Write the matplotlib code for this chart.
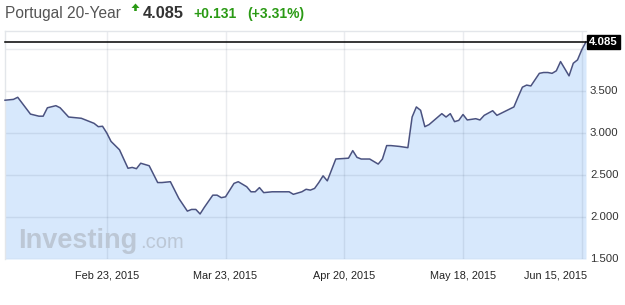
import numpy as np
import pandas as pd
import matplotlib
matplotlib.use("Agg")
import matplotlib.pyplot as plt
import matplotlib.dates as mdates
from matplotlib.patches import Polygon

plt.rcParams['font.family'] = ['Liberation Sans', 'DejaVu Sans']

# yield values
dates = ["2015-01-30", "2015-02-01", "2015-02-02", "2015-02-05", "2015-02-07",
         "2015-02-08", "2015-02-09", "2015-02-11", "2015-02-12", "2015-02-14",
         "2015-02-15", "2015-02-17", "2015-02-20", "2015-02-21", "2015-02-22",
         "2015-02-23", "2015-02-24", "2015-02-26", "2015-02-28", "2015-03-01",
         "2015-03-02", "2015-03-03", "2015-03-05", "2015-03-07", "2015-03-08",
         "2015-03-10", "2015-03-12", "2015-03-14", "2015-03-15", "2015-03-16",
         "2015-03-17", "2015-03-18", "2015-03-20", "2015-03-21", "2015-03-22",
         "2015-03-23", "2015-03-24", "2015-03-25", "2015-03-26", "2015-03-28",
         "2015-03-29", "2015-03-30", "2015-03-31", "2015-04-01", "2015-04-03",
         "2015-04-05", "2015-04-07", "2015-04-08", "2015-04-10", "2015-04-11",
         "2015-04-12", "2015-04-13", "2015-04-14", "2015-04-15", "2015-04-16",
         "2015-04-18", "2015-04-21", "2015-04-22", "2015-04-23", "2015-04-24",
         "2015-04-26", "2015-04-28", "2015-04-29", "2015-04-30", "2015-05-01",
         "2015-05-03", "2015-05-05", "2015-05-06", "2015-05-07", "2015-05-08",
         "2015-05-09", "2015-05-10", "2015-05-13", "2015-05-14", "2015-05-15",
         "2015-05-16", "2015-05-17", "2015-05-18", "2015-05-19", "2015-05-21",
         "2015-05-22", "2015-05-23", "2015-05-25", "2015-05-26", "2015-05-28",
         "2015-05-30", "2015-05-31", "2015-06-01", "2015-06-02", "2015-06-03",
         "2015-06-05", "2015-06-06", "2015-06-07", "2015-06-08", "2015-06-09",
         "2015-06-10", "2015-06-12", "2015-06-13", "2015-06-14", "2015-06-15",
         "2015-06-16"]
values = [3.39, 3.40, 3.425, 3.225, 3.20,
          3.20, 3.30, 3.325, 3.30, 3.19,
          3.185, 3.175, 3.115, 3.075, 3.08,
          3.00, 2.90, 2.80, 2.58, 2.59,
          2.575, 2.64, 2.61, 2.41, 2.41,
          2.42, 2.22, 2.07, 2.09, 2.09,
          2.036, 2.115, 2.26, 2.26, 2.23,
          2.24, 2.32, 2.40, 2.42, 2.36,
          2.30, 2.30, 2.35, 2.29, 2.30,
          2.30, 2.30, 2.27, 2.30, 2.33,
          2.32, 2.34, 2.41, 2.49, 2.43,
          2.69, 2.70, 2.79, 2.71, 2.69,
          2.69, 2.63, 2.69, 2.85, 2.85,
          2.84, 2.825, 3.19, 3.31, 3.27,
          3.075, 3.10, 3.23, 3.19, 3.23,
          3.135, 3.15, 3.22, 3.155, 3.17,
          3.155, 3.21, 3.265, 3.21, 3.26,
          3.31, 3.43, 3.545, 3.57, 3.56,
          3.71, 3.72, 3.72, 3.71, 3.74,
          3.85, 3.68, 3.83, 3.87, 3.99,
          4.085]

x_ticks = ["2015-02-23", "2015-03-23", "2015-04-20", "2015-05-18", "2015-06-15"]
x_labels = ["Feb 23, 2015", "Mar 23, 2015", "Apr 20, 2015", "May 18, 2015", "Jun 15, 2015"]
y_grid = [1.5, 2.0, 2.5, 3.0, 3.5, 4.0]
y_labels = ["1.500", "2.000", "2.500", "3.000", "3.500"]

last = 4.085
change = "+0.131"
pct = "(+3.31%)"

W, H = 625, 305
fig = plt.figure(figsize=(W / 100, H / 100), dpi=100)
ax = fig.add_axes([5 / W, 46 / H, 581 / W, 228 / H])

d = pd.to_datetime(dates)
tk = pd.to_datetime(x_ticks)

ax.fill_between(d, values, 1.5, color='#d7e8fc', lw=0, zorder=1)
ax.plot(d, values, color='#4a5280', lw=1.1, zorder=4, clip_on=False)
ax.axhline(last, color='black', lw=1.1, zorder=5, clip_on=False)

ax.set_xlim(pd.Timestamp("2015-01-30"), pd.Timestamp("2015-06-16"))
ax.set_ylim(1.5, 4.214)

# grid over the fill
for yv in y_grid:
    ax.axhline(yv, color='#1e3250', alpha=0.09, lw=1, zorder=2)
for t in tk:
    ax.axvline(t, color='#1e3250', alpha=0.09, lw=1, zorder=2)

ax.set_xticks(tk)
ax.set_xticklabels([])
ax.set_yticks([])
ax.tick_params(length=0)
for s in ['bottom', 'right']:
    ax.spines[s].set_visible(False)
for s in ['top', 'left']:
    ax.spines[s].set_color('#e3e6ea')
    ax.spines[s].set_linewidth(1)

# x labels (last one pushed left to fit)
for t, lab in zip(tk, x_labels):
    xp = ax.transData.transform((mdates.date2num(t), 0))[0]
    ha = 'center'
    if lab == x_labels[-1]:
        ha = 'right'
        xp += 5
    fig.text(xp / W, 1 - 276 / H, lab, ha=ha, va='center', fontsize=7.8, color='#222222')

# y labels on the right
for yv, lab in zip(y_grid, y_labels):
    fig.text(590 / W, ax.transData.transform((0, yv))[1] / H, lab,
             ha='left', va='center', fontsize=8.2, color='#333333')

# last value box
fig.text(589 / W, ax.transData.transform((0, last))[1] / H, "4.085",
         ha='left', va='center', fontsize=8.2, color='white', fontweight='bold',
         bbox=dict(boxstyle='square,pad=0.18', fc='black', ec='black'))

# watermark
fig.text(18 / W, 1 - 248 / H, "Investing", fontsize=19.5, fontweight='bold',
         color='#bcc7d5', ha='left', va='baseline')
fig.text(140 / W, 1 - 248 / H, ".com", fontsize=14.5, color='#bcc7d5',
         ha='left', va='baseline')

# header
fig.text(5 / W, 1 - 18 / H, "Portugal 20-Year", fontsize=11.2, color='#555555',
         ha='left', va='baseline')
arrow = [(135.5, 3.5), (131.5, 8), (134.2, 8), (134.2, 11), (136.8, 11), (136.8, 8), (139.5, 8)]
fig.patches.append(Polygon([(px / W, 1 - py / H) for px, py in arrow], closed=True,
                           transform=fig.transFigure, fc='#2a9a14', ec='none'))
fig.text(143 / W, 1 - 18 / H, f"{last:.3f}", fontsize=11.8, color='#333333',
         fontweight='bold', ha='left', va='baseline')
fig.text(193 / W, 1 - 18 / H, change, fontsize=10, color='#2a9a14',
         fontweight='bold', ha='left', va='baseline')
fig.text(247 / W, 1 - 18 / H, pct, fontsize=10, color='#2a9a14',
         fontweight='bold', ha='left', va='baseline')

fig.savefig("out.png", dpi=100)
